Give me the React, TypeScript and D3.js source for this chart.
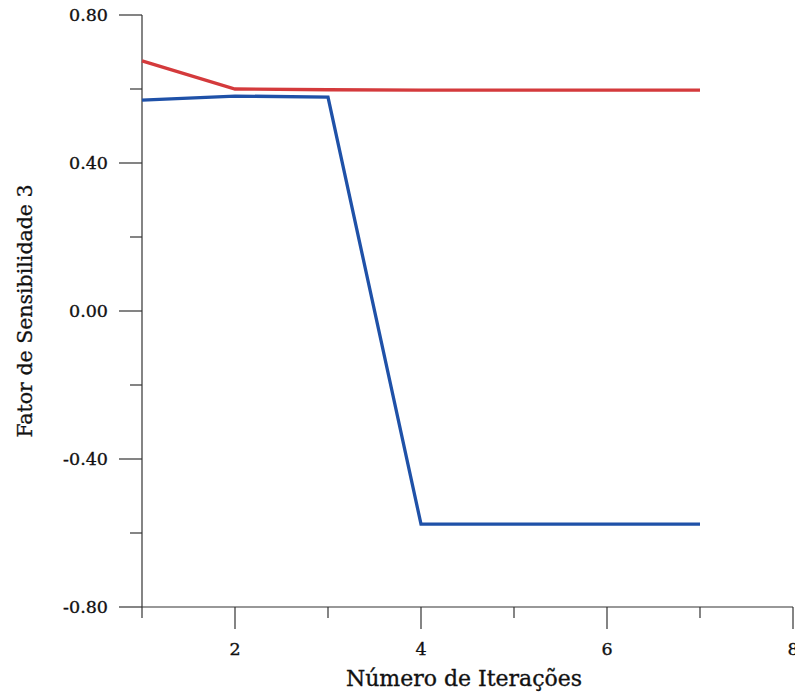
import React, { useEffect, useRef } from "react";
import * as d3 from "d3";

// iterations and the two sensitivity series
const iterations = [1, 2, 3, 4, 5, 6, 7];
const redSeries = [0.676, 0.6, 0.598, 0.597, 0.597, 0.597, 0.597];
const blueSeries = [0.57, 0.581, 0.578, -0.576, -0.576, -0.576, -0.576];
const yMajor = [0.8, 0.4, 0.0, -0.4, -0.8];
const yMinor = [0.6, 0.2, -0.2, -0.6];
const xMajor = [2, 4, 6, 8];
const xMinor = [1, 3, 5, 7];

const W = 795;
const H = 692;

export default function App() {
  const ref = useRef<SVGSVGElement>(null);

  useEffect(() => {
    const svg = d3.select(ref.current);
    svg.selectAll("*").remove();

    const x = d3.scaleLinear().domain([1, 8]).range([142, 793]);
    const y = d3.scaleLinear().domain([-0.8, 0.8]).range([607, 15]);
    const font = "DejaVu Serif";
    const axisColor = "#333";
    const ink = "#111";

    // y axis
    const gy = svg.append("g").attr("transform", `translate(${x(1)},0)`);
    gy.append("line")
      .attr("y1", y(0.8)).attr("y2", y(-0.8))
      .attr("stroke", axisColor).attr("stroke-width", 1.2);
    gy.selectAll("line.major").data(yMajor).enter().append("line")
      .attr("x1", -23).attr("x2", 0)
      .attr("y1", d => y(d)).attr("y2", d => y(d))
      .attr("stroke", axisColor).attr("stroke-width", 1.2);
    gy.selectAll("line.minor").data(yMinor).enter().append("line")
      .attr("x1", -12).attr("x2", 0)
      .attr("y1", d => y(d)).attr("y2", d => y(d))
      .attr("stroke", axisColor).attr("stroke-width", 1.2);
    gy.selectAll("text").data(yMajor).enter().append("text")
      .attr("x", -34).attr("y", d => y(d))
      .attr("dy", "0.36em")
      .attr("text-anchor", "end")
      .attr("font-family", font).attr("font-size", 17.5)
      .attr("fill", ink).attr("stroke", ink).attr("stroke-width", 0.35)
      .text(d => d3.format(".2f")(d).replace("−", "-"));

    // x axis
    const gx = svg.append("g").attr("transform", `translate(0,${y(-0.8)})`);
    gx.append("line")
      .attr("x1", x(1)).attr("x2", x(8))
      .attr("stroke", axisColor).attr("stroke-width", 1.2);
    gx.selectAll("line.major").data(xMajor).enter().append("line")
      .attr("x1", d => x(d)).attr("x2", d => x(d))
      .attr("y1", 0).attr("y2", 22)
      .attr("stroke", axisColor).attr("stroke-width", 1.2);
    gx.selectAll("line.minor").data(xMinor).enter().append("line")
      .attr("x1", d => x(d)).attr("x2", d => x(d))
      .attr("y1", 0).attr("y2", 11)
      .attr("stroke", axisColor).attr("stroke-width", 1.2);
    gx.selectAll("text").data(xMajor).enter().append("text")
      .attr("x", d => x(d)).attr("y", 48)
      .attr("text-anchor", "middle")
      .attr("font-family", font).attr("font-size", 17.5)
      .attr("fill", ink).attr("stroke", ink).attr("stroke-width", 0.35)
      .text(d => d);

    // axis titles
    svg.append("text")
      .attr("x", 464).attr("y", 686)
      .attr("text-anchor", "middle")
      .attr("font-family", font).attr("font-size", 22)
      .attr("fill", ink).attr("stroke", ink).attr("stroke-width", 0.35)
      .text("Número de Iterações");
    svg.append("text")
      .attr("transform", `translate(32,311) rotate(-90)`)
      .attr("text-anchor", "middle")
      .attr("font-family", font).attr("font-size", 20.5)
      .attr("fill", ink).attr("stroke", ink).attr("stroke-width", 0.3)
      .text("Fator de Sensibilidade 3");

    // series
    const line = d3.line<number>()
      .x((_, i) => x(iterations[i]))
      .y(d => y(d));
    svg.append("path").datum(redSeries)
      .attr("d", line).attr("fill", "none")
      .attr("stroke", "#d43a3c").attr("stroke-width", 3.3);
    svg.append("path").datum(blueSeries)
      .attr("d", line).attr("fill", "none")
      .attr("stroke", "#1f51a8").attr("stroke-width", 3.3);
  }, []);

  return (
    <svg
      ref={ref}
      width={W}
      height={H}
      style={{ position: "absolute", left: 0, top: 0, background: "#fff" }}
    />
  );
}
